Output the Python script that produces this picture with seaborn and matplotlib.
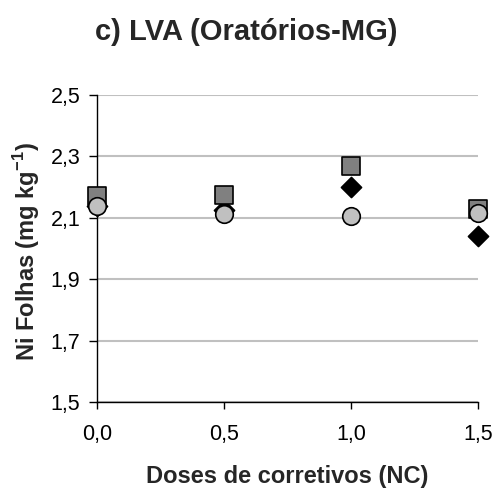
import matplotlib
matplotlib.use("Agg")
import matplotlib.pyplot as plt
import seaborn as sns
import pandas as pd

# Doses of liming material (NC) and leaf Ni contents (mg kg-1) for three treatments
doses = [0.0, 0.5, 1.0, 1.5]
serie_losango = [2.14, 2.125, 2.20, 2.04]
serie_quadrado = [2.17, 2.175, 2.27, 2.128]
serie_circulo = [2.139, 2.113, 2.107, 2.115]

y_ticks = [1.5, 1.7, 1.9, 2.1, 2.3, 2.5]
x_ticks = [0.0, 0.5, 1.0, 1.5]

sns.set_theme(style="white")
plt.rcParams["font.family"] = ["Liberation Sans", "DejaVu Sans"]
plt.rcParams["mathtext.fontset"] = "custom"
plt.rcParams["mathtext.bf"] = "Liberation Sans:bold"
plt.rcParams["mathtext.rm"] = "Liberation Sans"

fig = plt.figure(figsize=(4.96, 4.91), dpi=100)
ax = fig.add_axes([0.1956, 0.1813, 0.7681, 0.6252])

estilos = [
    (serie_losango, "D", "black", 105),
    (serie_quadrado, "s", "#808080", 150),
    (serie_circulo, "o", "#c0c0c0", 160),
]
for valores, marcador, cor, tam in estilos:
    df = pd.DataFrame({"dose": doses, "ni": valores})
    sns.scatterplot(data=df, x="dose", y="ni", marker=marcador, color=cor,
                    edgecolor="black", linewidth=1.2, s=tam, ax=ax,
                    clip_on=False, zorder=3, legend=False)

ax.set_xlim(0, 1.5)
ax.set_ylim(1.5, 2.5)
ax.set_yticks(y_ticks)
ax.set_yticklabels([f"{v:.1f}".replace(".", ",") for v in y_ticks], fontsize=15.5)
ax.set_xticks(x_ticks)
ax.set_xticklabels([f"{v:.1f}".replace(".", ",") for v in x_ticks], fontsize=15.5)
ax.yaxis.grid(True, color="#c0c0c0", linewidth=1.5)
ax.xaxis.grid(False)

for lado in ["top", "right"]:
    ax.spines[lado].set_visible(False)
for lado in ["left", "bottom"]:
    ax.spines[lado].set_color("black")
    ax.spines[lado].set_linewidth(1.0)
ax.tick_params(axis="y", direction="out", length=6, width=1.0, color="black",
               left=True, pad=6, labelcolor="black")
ax.tick_params(axis="x", direction="out", length=5, width=1.0, color="black",
               bottom=True, pad=11, labelcolor="black")

ax.set_xlabel("Doses de corretivos (NC)", fontsize=17, fontweight="bold",
              va="center")
ax.xaxis.set_label_coords(0.5, -0.244)
ax.set_ylabel("Ni Folhas (mg kg$^{\\mathbf{-1}}$)", fontsize=17,
              fontweight="bold", va="center")
ax.yaxis.set_label_coords(-0.186, 0.49)
fig.text(0.496, 0.935, "c) LVA (Oratórios-MG)", ha="center", va="center",
         fontsize=21, fontweight="bold")

fig.savefig("out.png", dpi=100, facecolor="white")
